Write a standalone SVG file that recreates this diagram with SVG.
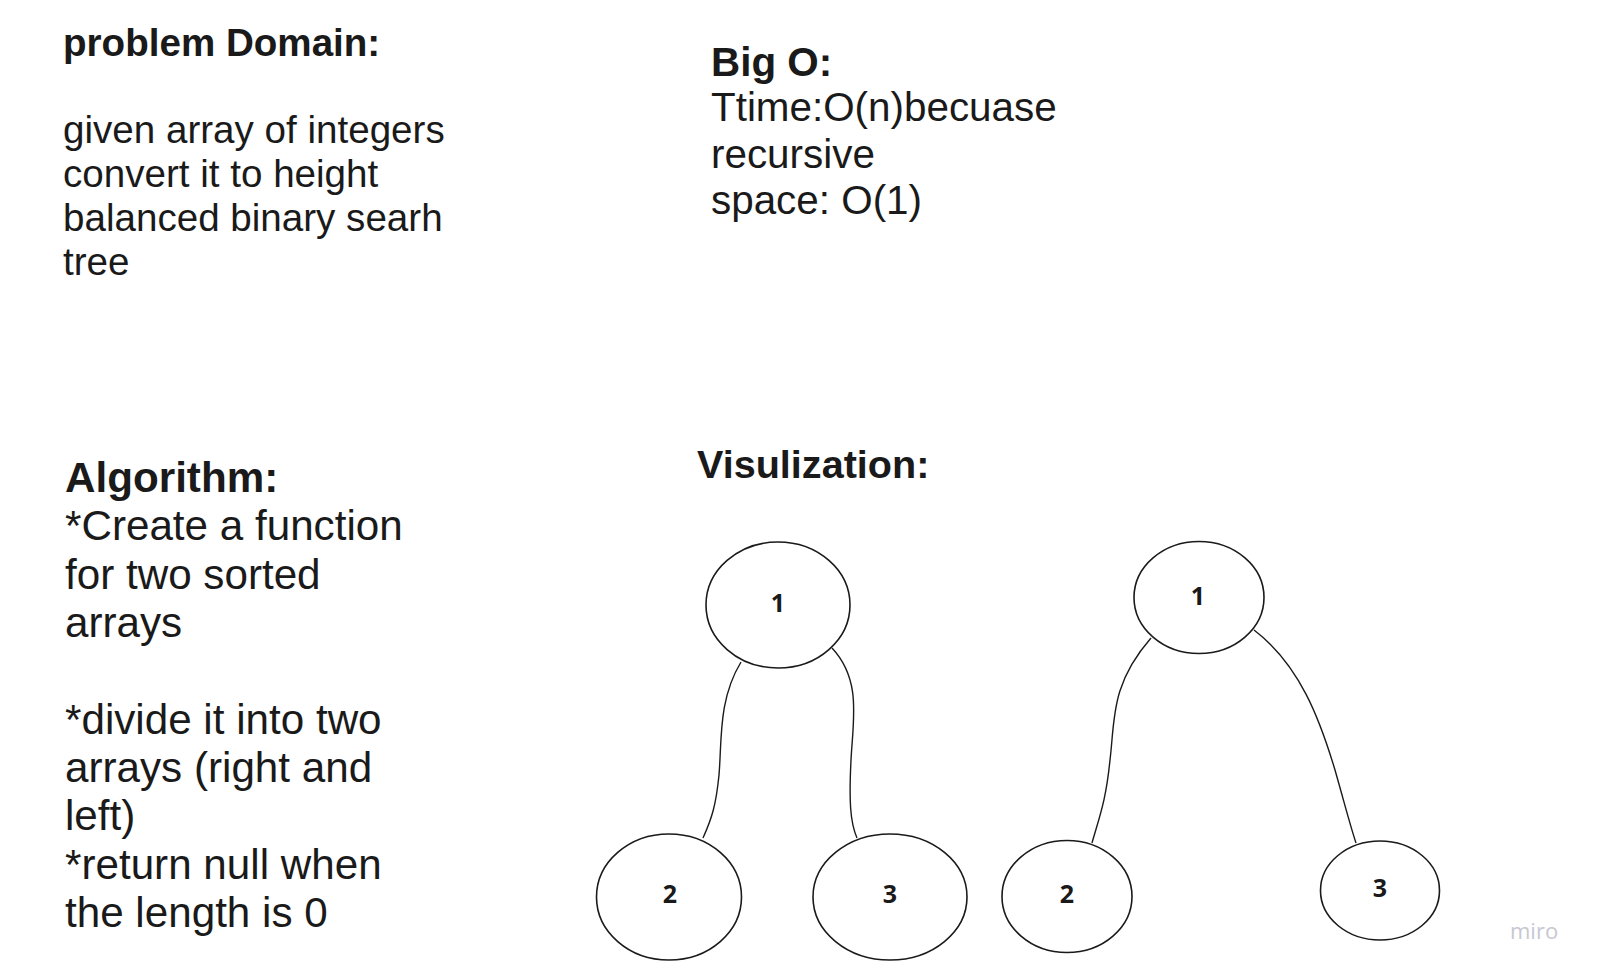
<svg xmlns="http://www.w3.org/2000/svg" width="1598" height="977" viewBox="0 0 1598 977">
<style>
.t{font-family:"Liberation Sans",Arial,sans-serif;fill:#1a1a1a}
.b{font-weight:bold}
.node ellipse{fill:#ffffff;stroke:#1a1a1a;stroke-width:1.6}
.node text{font-family:"Open Sans","Noto Sans",sans-serif;font-weight:bold;font-size:25px;fill:#1a1a1a;text-anchor:middle}
.edge{fill:none;stroke:#1a1a1a;stroke-width:1.4}
</style>
<rect width="1598" height="977" fill="#ffffff"/>
<g id="problem-domain" class="t" font-size="38.6">
<text x="63" y="56" class="b">problem Domain:</text>
<text x="63" y="143">given array of integers</text>
<text x="63" y="187">convert it to height</text>
<text x="63" y="231">balanced binary searh</text>
<text x="63" y="275">tree</text>
</g>
<g id="big-o" class="t" font-size="40.4">
<text x="711" y="76" class="b">Big O:</text>
<text x="711" y="121">Ttime:O(n)becuase</text>
<text x="711" y="167.5">recursive</text>
<text x="711" y="213.5">space: O(1)</text>
</g>
<g id="algorithm" class="t" font-size="42.2">
<text x="65" y="492" class="b">Algorithm:</text>
<text x="65" y="540">*Create a function</text>
<text x="65" y="589">for two sorted</text>
<text x="65" y="637">arrays</text>
<text x="65" y="734">*divide it into two</text>
<text x="65" y="782">arrays (right and</text>
<text x="65" y="830">left)</text>
<text x="65" y="879">*return null when</text>
<text x="65" y="927">the length is 0</text>
</g>
<g id="visualization-title" class="t" font-size="39.6">
<text x="697" y="478" class="b">Visulization:</text>
</g>
<g id="connectors">
<path class="edge" d="M741,662 C718,700 722,740 719,775 C716,805 712,818 703,838"/>
<path class="edge" d="M832,648 C862,680 853,720 851,760 C849,800 850,822 857,838"/>
<path class="edge" d="M1151,638 C1110,685 1115,720 1110,760 C1106,800 1100,815 1092,843"/>
<path class="edge" d="M1254,630 C1300,665 1320,720 1335,770 C1345,805 1350,825 1356,843"/>
</g>
<g id="tree1-node1" class="node"><ellipse cx="778" cy="605" rx="72" ry="63"/><text x="778" y="612">1</text></g>
<g id="tree1-node2" class="node"><ellipse cx="669" cy="897" rx="72.5" ry="63"/><text x="670" y="903">2</text></g>
<g id="tree1-node3" class="node"><ellipse cx="890" cy="897" rx="77" ry="63"/><text x="890" y="903">3</text></g>
<g id="tree2-node1" class="node"><ellipse cx="1199" cy="597.5" rx="65" ry="56"/><text x="1198" y="605">1</text></g>
<g id="tree2-node2" class="node"><ellipse cx="1067" cy="896.5" rx="65" ry="56"/><text x="1067" y="903">2</text></g>
<g id="tree2-node3" class="node"><ellipse cx="1380" cy="890.5" rx="59.5" ry="49.5"/><text x="1380" y="897">3</text></g>
<text x="1510" y="939" font-family="'Open Sans','Noto Sans',sans-serif" font-size="22" fill="#c6c8d2">miro</text>
</svg>
